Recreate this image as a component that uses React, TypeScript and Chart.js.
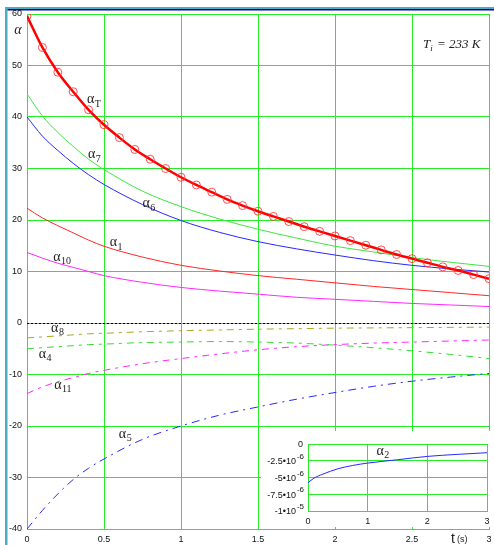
import React, { useEffect, useRef } from 'react';
import { Chart, registerables } from 'chart.js';

Chart.register(...registerables);

// ---- data ----
const tT = [0, 0.1, 0.2, 0.3, 0.4, 0.5, 0.6, 0.7, 0.8, 0.9, 1.0, 1.1, 1.2, 1.3, 1.4, 1.5, 1.6, 1.7, 1.8, 1.9, 2.0, 2.1, 2.2, 2.3, 2.4, 2.5, 2.6, 2.7, 2.8, 2.9, 3.0];
const alphaT = [59.6, 53.5, 48.7, 44.9, 41.4, 38.5, 36.0, 33.7, 31.8, 30.0, 28.3, 26.8, 25.4, 24.0, 22.8, 21.7, 20.7, 19.7, 18.7, 17.8, 16.9, 16.0, 15.1, 14.2, 13.3, 12.5, 11.7, 10.9, 10.2, 9.4, 8.6];

const tCurve = [0, 0.1, 0.2, 0.3, 0.4, 0.5, 0.75, 1, 1.25, 1.5, 1.75, 2, 2.25, 2.5, 2.75, 3];
const alpha7 = [44.5, 40.2, 37.0, 34.3, 31.8, 29.8, 25.6, 22.6, 20.2, 18.2, 16.5, 14.9, 13.8, 12.7, 11.8, 11.0];
const alpha6 = [40.0, 36.3, 33.5, 31.0, 28.8, 26.9, 23.0, 19.9, 17.6, 15.8, 14.4, 13.2, 12.1, 11.2, 10.5, 9.9];
const alpha1 = [22.3, 20.4, 18.9, 17.5, 16.1, 14.9, 12.8, 11.2, 10.1, 9.2, 8.5, 7.8, 7.1, 6.5, 5.9, 5.3];
const alpha10 = [13.7, 12.6, 11.6, 10.8, 10.0, 9.2, 7.9, 6.9, 6.2, 5.6, 5.0, 4.6, 4.2, 3.8, 3.5, 3.2];
const alpha8 = [-2.9, -2.7, -2.5, -2.3, -2.1, -2.0, -1.7, -1.5, -1.35, -1.2, -1.1, -1.0, -0.95, -0.9, -0.85, -0.8];
const alpha4 = [-5.0, -4.8, -4.6, -4.4, -4.2, -4.1, -3.8, -3.7, -3.6, -3.7, -3.9, -4.3, -4.8, -5.4, -6.1, -6.9];
const alpha11 = [-13.7, -12.4, -11.4, -10.6, -9.8, -9.2, -7.9, -6.9, -6.0, -5.2, -4.6, -4.2, -3.9, -3.7, -3.5, -3.3];
const alpha5 = [-40.0, -36.4, -33.2, -30.4, -28.2, -26.4, -22.6, -20.0, -17.9, -16.3, -14.8, -13.5, -12.3, -11.3, -10.5, -9.8];

const tInset = [0, 0.1, 0.25, 0.5, 0.75, 1, 1.5, 2, 2.5, 3];
const alpha2 = [-5.8e-6, -5.1e-6, -4.5e-6, -3.7e-6, -3.2e-6, -2.85e-6, -2.35e-6, -1.85e-6, -1.55e-6, -1.3e-6];

const xTicks = ['0', '0.5', '1', '1.5', '2', '2.5', '3'];
const insetYTickValues = [0, -2.5e-6, -5e-6, -7.5e-6, -1e-5];
const insetYTickBase = ['0', '-2.5\u202210', '-5\u202210', '-7.5\u202210', '-1\u202210'];
const insetYTickExp = ['', '-6', '-6', '-6', '-5'];

// curve labels (subscript, t, value)
const labelSubs = ['T', '7', '6', '1', '10', '8', '4', '11', '5'];
const labelT = [0.413, 0.42, 0.774, 0.561, 0.194, 0.18, 0.10, 0.2, 0.62];
const labelV = [43.4, 32.7, 23.2, 15.6, 12.8, -1.0, -6.0, -12.1, -21.6];

const GRID = 'rgb(40,236,40)';
const pts = (xs: number[], ys: number[]) => xs.map((x, i) => ({ x, y: ys[i] }));

function drawAlpha(ctx: CanvasRenderingContext2D, x: number, y: number, sub: string) {
  ctx.save();
  ctx.fillStyle = '#222';
  ctx.font = '14px "Liberation Serif"';
  ctx.textAlign = 'center';
  ctx.textBaseline = 'middle';
  ctx.fillText('\u03b1', x, y);
  const w = ctx.measureText('\u03b1').width;
  ctx.font = '10px "Liberation Serif"';
  ctx.textAlign = 'left';
  ctx.fillText(sub, x + w / 2 + 0.5, y + 4.5);
  ctx.restore();
}

export default function App() {
  const mainRef = useRef<HTMLCanvasElement>(null);
  const insetRef = useRef<HTMLCanvasElement>(null);

  useEffect(() => {
    const frame = {
      id: 'frame',
      beforeDraw(chart: any) {
        const ctx = chart.ctx;
        ctx.save();
        ctx.fillStyle = '#fff';
        ctx.fillRect(0, 0, chart.width, chart.height);
        ctx.fillStyle = 'rgb(75,172,198)';
        ctx.fillRect(5, 7, 2.5, chart.height - 7);
        ctx.fillRect(5, 7, chart.width - 5, 2);
        ctx.fillStyle = 'rgb(0,0,170)';
        ctx.fillRect(7.5, 9, chart.width - 7.5, 1.5);
        ctx.restore();
      },
      beforeDatasetsDraw(chart: any) {
        const ctx = chart.ctx;
        const y = Math.round(chart.scales.y.getPixelForValue(0)) + 0.5;
        const a = chart.chartArea;
        ctx.save();
        ctx.strokeStyle = '#000';
        ctx.lineWidth = 1;
        ctx.setLineDash([2, 2]);
        ctx.beginPath();
        ctx.moveTo(a.left, y);
        ctx.lineTo(a.right, y);
        ctx.stroke();
        ctx.restore();
      },
      afterDatasetsDraw(chart: any) {
        const ctx = chart.ctx;
        const xs = chart.scales.x;
        const ys = chart.scales.y;
        labelSubs.forEach((s, i) => {
          drawAlpha(ctx, xs.getPixelForValue(labelT[i]), ys.getPixelForValue(labelV[i]), s);
        });
        const a = chart.chartArea;
        ctx.save();
        ctx.fillStyle = '#222';
        // axis symbol
        ctx.font = 'italic 14px "Liberation Serif"';
        ctx.textAlign = 'center';
        ctx.textBaseline = 'middle';
        ctx.fillText('\u03b1', a.left - 9, a.top + 16);
        // Ti = 233 K
        ctx.textAlign = 'left';
        ctx.textBaseline = 'alphabetic';
        let x = a.right - 66;
        const by = a.top + 34;
        ctx.font = 'italic 13px "Liberation Serif"';
        ctx.fillText('T', x, by);
        x += ctx.measureText('T').width;
        ctx.font = 'italic 9px "Liberation Serif"';
        ctx.fillText('i', x, by + 3);
        x += ctx.measureText('i').width + 1;
        ctx.font = 'italic 13px "Liberation Serif"';
        ctx.fillText(' = 233 K', x, by);
        // t (s)
        ctx.font = '14px "Liberation Sans"';
        ctx.fillText('t', a.right - 38, chart.height - 2);
        ctx.font = '9px "Liberation Sans"';
        ctx.fillText('(s)', a.right - 32, chart.height - 3);
        ctx.restore();
      },
    };

    const dash = { borderWidth: 1, pointRadius: 0, cubicInterpolationMode: 'monotone' as const };
    const main = new Chart(mainRef.current!, {
      type: 'line',
      data: {
        datasets: [
          {
            data: pts(tT, alphaT), borderColor: '#ff0000', borderWidth: 2.5,
            pointRadius: 4, pointBorderWidth: 1, pointBorderColor: 'rgba(255,50,50,0.85)',
            pointBackgroundColor: 'rgba(255,255,255,0)', cubicInterpolationMode: 'monotone',
          },
          { data: pts(tCurve, alpha7), borderColor: 'rgb(60,232,60)', ...dash },
          { data: pts(tCurve, alpha6), borderColor: 'rgb(40,40,255)', ...dash },
          { data: pts(tCurve, alpha1), borderColor: 'rgb(255,40,40)', ...dash },
          { data: pts(tCurve, alpha10), borderColor: 'rgb(255,40,255)', ...dash },
          { data: pts(tCurve, alpha8), borderColor: 'rgb(170,170,30)', borderDash: [7, 5, 3, 5], ...dash },
          { data: pts(tCurve, alpha4), borderColor: 'rgb(50,222,50)', borderDash: [7, 5, 3, 5], ...dash },
          { data: pts(tCurve, alpha11), borderColor: 'rgb(255,40,255)', borderDash: [7, 5, 3, 5], ...dash },
          { data: pts(tCurve, alpha5), borderColor: 'rgb(40,40,255)', borderDash: [8, 5, 2, 5], ...dash },
        ],
      },
      options: {
        animation: false,
        responsive: false,
        maintainAspectRatio: false,
        layout: { padding: { top: 14, right: 2, left: 0, bottom: 0 } },
        plugins: { legend: { display: false }, tooltip: { enabled: false } },
        scales: {
          x: {
            type: 'linear', min: 0, max: 3,
            afterBuildTicks: (s: any) => { s.ticks = xTicks.map((v) => ({ value: parseFloat(v) })); },
            ticks: {
              autoSkip: false, maxRotation: 0, padding: 5, color: '#111',
              font: { family: 'Liberation Sans', size: 9 },
              callback: (v: any) => xTicks.find((t) => parseFloat(t) === v) ?? '',
            },
            grid: { color: GRID, lineWidth: 1, drawTicks: false },
            border: { color: GRID },
            afterFit: (s: any) => { s.height = 16; s.paddingLeft = 0; s.paddingRight = 0; },
          },
          y: {
            type: 'linear', min: -40, max: 60,
            ticks: { stepSize: 10, padding: 5, color: '#111', font: { family: 'Liberation Sans', size: 9 } },
            grid: { color: GRID, lineWidth: 1, drawTicks: false },
            border: { color: GRID },
            afterFit: (s: any) => { s.width = 27; s.paddingTop = 0; s.paddingBottom = 0; },
          },
        },
      },
      plugins: [frame],
    });

    const insetPlugin = {
      id: 'insetDeco',
      beforeDraw(chart: any) {
        const ctx = chart.ctx;
        ctx.save();
        ctx.fillStyle = '#fff';
        ctx.fillRect(0, 0, chart.width, chart.height);
        ctx.restore();
      },
      afterDraw(chart: any) {
        const ctx = chart.ctx;
        const ys = chart.scales.y;
        const a = chart.chartArea;
        ctx.save();
        ctx.fillStyle = '#111';
        ctx.textBaseline = 'middle';
        insetYTickValues.forEach((v, i) => {
          const y = ys.getPixelForValue(v);
          const right = a.left - 4;
          ctx.font = '8px "Liberation Sans"';
          const ew = insetYTickExp[i] ? ctx.measureText(insetYTickExp[i]).width : 0;
          ctx.textAlign = 'right';
          if (insetYTickExp[i]) ctx.fillText(insetYTickExp[i], right, y - 4);
          ctx.font = '9px "Liberation Sans"';
          ctx.fillText(insetYTickBase[i], right - ew - 1, y + 1);
        });
        ctx.restore();
        drawAlpha(ctx, chart.scales.x.getPixelForValue(1.21), ys.getPixelForValue(-1.04e-6), '2');
      },
    };

    const inset = new Chart(insetRef.current!, {
      type: 'line',
      data: {
        datasets: [
          { data: pts(tInset, alpha2), borderColor: 'rgb(40,40,255)', borderWidth: 1, pointRadius: 0, cubicInterpolationMode: 'monotone' },
        ],
      },
      options: {
        animation: false,
        responsive: false,
        maintainAspectRatio: false,
        layout: { padding: { top: 13, right: 7, left: 0, bottom: 0 } },
        plugins: { legend: { display: false }, tooltip: { enabled: false } },
        scales: {
          x: {
            type: 'linear', min: 0, max: 3,
            ticks: { stepSize: 1, padding: 5, maxRotation: 0, color: '#111', font: { family: 'Liberation Sans', size: 9 } },
            grid: { color: GRID, drawTicks: false },
            border: { color: GRID },
            afterFit: (s: any) => { s.height = 16; s.paddingLeft = 0; s.paddingRight = 0; },
          },
          y: {
            type: 'linear', min: -1e-5, max: 0,
            afterBuildTicks: (s: any) => { s.ticks = insetYTickValues.map((v) => ({ value: v })); },
            ticks: { display: false },
            grid: { color: GRID, drawTicks: false },
            border: { color: GRID },
            afterFit: (s: any) => { s.width = 47; s.paddingTop = 0; s.paddingBottom = 0; },
          },
        },
      },
      plugins: [insetPlugin],
    });

    return () => {
      main.destroy();
      inset.destroy();
    };
  }, []);

  return (
    <div style={{ position: 'fixed', left: 0, top: 0, width: 494, height: 545, background: '#fff' }}>
      <canvas ref={mainRef} width={494} height={545} style={{ position: 'absolute', left: 0, top: 0, width: 494, height: 545 }} />
      <canvas ref={insetRef} width={233} height={96} style={{ position: 'absolute', left: 261, top: 431, width: 233, height: 96 }} />
    </div>
  );
}
